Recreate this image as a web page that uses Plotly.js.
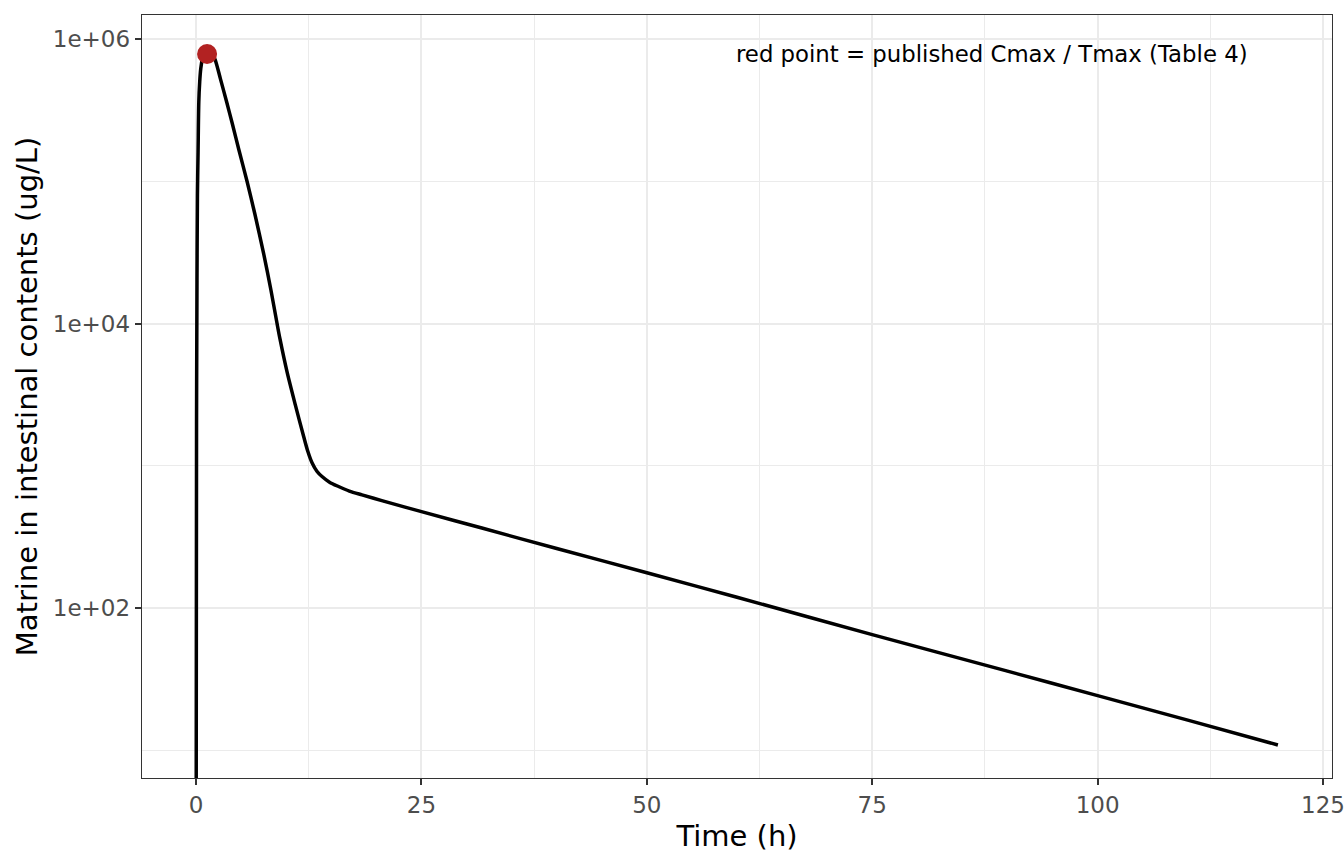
<!DOCTYPE html>
<html>
<head>
<meta charset="utf-8">
<script src="https://cdn.plot.ly/plotly-3.0.1.min.js"></script>
<style>
  html, body { margin: 0; padding: 0; background: #fff; }
  #plot { width: 1344px; height: 864px; }
</style>
</head>
<body>
<div id="plot"></div>
<script>
// simulated matrine curve (ug/L)
const timeH = [0, 0.05, 0.1, 0.15, 0.22, 0.3, 0.4, 0.52, 0.7, 0.9, 1.2, 1.5, 1.8, 2.1,
  2.7, 3.4, 4.0, 4.73, 5.65, 6.5, 7.5, 8.3, 8.98, 9.3, 10.09, 11.0, 11.94, 12.4, 12.86,
  13.4, 13.97, 14.8, 15.8, 17, 18.4, 20.6, 25, 31.7, 40, 50, 60, 75, 90, 100, 110, 120];
const conc = [0, 2000, 20000, 80000, 160000, 360000, 500000, 620000, 730000, 800000,
  840000, 820000, 780000, 720000, 525000, 359000, 257000, 168000, 100000, 59600, 30900,
  17200, 10000, 7820, 4570, 2690, 1600, 1260, 1050, 916, 840, 767, 715, 664, 624, 569,
  476, 365, 262, 177, 119, 65, 36, 24.2, 16.3, 10.9];

// published Cmax / Tmax
const tmax = [1.22];
const cmax = [785000];

const yTickVals = [100, 10000, 1000000];
const yTickText = ['1e+02', '1e+04', '1e+06'];
const yMinorVals = [10, 1000, 100000];

const noteText = 'red point = published Cmax / Tmax (Table 4)';

// log range of the panel, like ggplot's expanded scale
const yRange = [0.805, 6.169];
// zero concentration goes to the panel floor (ggplot draws -Inf at the edge)
const yFloor = Math.pow(10, yRange[0] - 1);

const grid = '#EBEBEB';
const ink = '#333333';

let traces = [
  {
    x: timeH,
    y: conc.map(v => v > 0 ? v : yFloor),
    mode: 'lines',
    type: 'scatter',
    line: {color: '#000000', width: 3.5, shape: 'spline', smoothing: 0.8},
    hoverinfo: 'x+y'
  },
  {
    x: tmax,
    y: cmax,
    mode: 'markers',
    type: 'scatter',
    marker: {color: '#B22222', size: 20}
  }
];

let layout = {
  width: 1344,
  height: 864,
  showlegend: false,
  paper_bgcolor: '#ffffff',
  plot_bgcolor: '#ffffff',
  margin: {l: 142, r: 12, t: 15, b: 86},
  font: {family: 'DejaVu Sans', color: '#000000'},
  xaxis: {
    range: [-6, 126],
    tickvals: [0, 25, 50, 75, 100, 125],
    ticks: 'outside',
    ticklen: 6,
    tickwidth: 2,
    tickcolor: ink,
    tickfont: {size: 23, color: '#4D4D4D'},
    ticklabeloverflow: 'allow',
    showgrid: true,
    gridcolor: grid,
    gridwidth: 2,
    minor: {dtick: 12.5, tick0: 0, showgrid: true, gridcolor: grid, gridwidth: 1, ticks: ''},
    zeroline: false,
    showline: true,
    linecolor: ink,
    linewidth: 1.3,
    mirror: true,
    title: {text: 'Time (h)', font: {size: 29, color: '#000000'}, standoff: 8}
  },
  yaxis: {
    type: 'log',
    range: yRange,
    tickvals: yTickVals,
    ticktext: yTickText,
    ticks: 'outside',
    ticklen: 6,
    tickwidth: 2,
    tickcolor: ink,
    tickfont: {size: 23, color: '#4D4D4D'},
    showgrid: true,
    gridcolor: grid,
    gridwidth: 2,
    minor: {tickvals: yMinorVals, showgrid: true, gridcolor: grid, gridwidth: 1, ticks: ''},
    zeroline: false,
    showline: true,
    linecolor: ink,
    linewidth: 1.3,
    mirror: true,
    title: {text: 'Matrine in intestinal contents (ug/L)', font: {size: 29, color: '#000000'}, standoff: 6}
  },
  annotations: [{
    x: 88.25,
    y: Math.log10(cmax[0]),
    xref: 'x',
    yref: 'y',
    text: noteText,
    showarrow: false,
    xanchor: 'center',
    yanchor: 'middle',
    font: {size: 22.8, color: '#000000'}
  }]
};

Plotly.newPlot('plot', traces, layout, {displayModeBar: false, staticPlot: true});
</script>
</body>
</html>
